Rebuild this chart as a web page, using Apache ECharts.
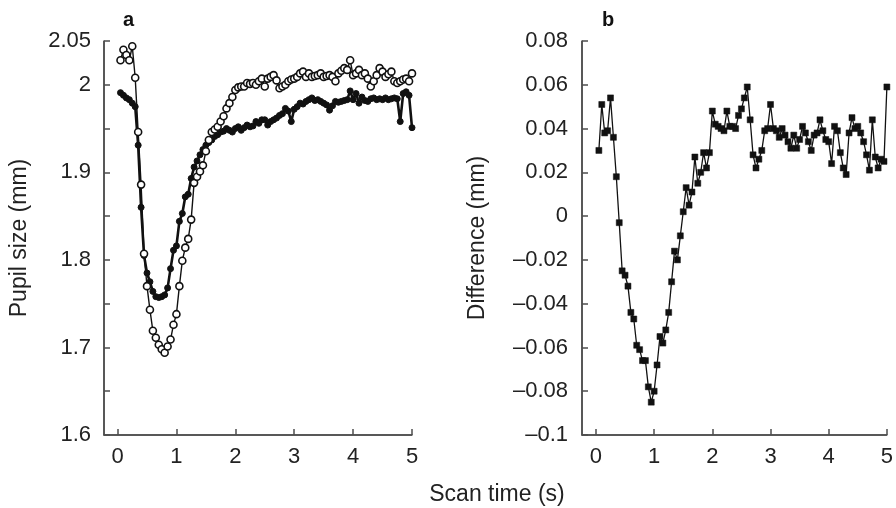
<!DOCTYPE html>
<html>
<head>
<meta charset="utf-8">
<title>Pupil size</title>
<script src="https://cdn.jsdelivr.net/npm/echarts@6/dist/echarts.min.js"></script>
<style>
	html, body { margin: 0; padding: 0; background: #ffffff; }
	#Section1 { width: 896px; height: 508px; }
</style>
</head>
<body>
<div id="Section1"></div>
<script>
// scan times (s)
var times = [0.05, 0.1, 0.15, 0.2, 0.25, 0.3, 0.35, 0.4, 0.45, 0.5,
	0.55, 0.6, 0.65, 0.7, 0.75, 0.8, 0.85, 0.9, 0.95, 1.0,
	1.05, 1.1, 1.15, 1.2, 1.25, 1.3, 1.35, 1.4, 1.45, 1.5,
	1.55, 1.6, 1.65, 1.7, 1.75, 1.8, 1.85, 1.9, 1.95, 2.0,
	2.05, 2.1, 2.15, 2.2, 2.25, 2.3, 2.35, 2.4, 2.45, 2.5,
	2.55, 2.6, 2.65, 2.7, 2.75, 2.8, 2.85, 2.9, 2.95, 3.0,
	3.05, 3.1, 3.15, 3.2, 3.25, 3.3, 3.35, 3.4, 3.45, 3.5,
	3.55, 3.6, 3.65, 3.7, 3.75, 3.8, 3.85, 3.9, 3.95, 4.0,
	4.05, 4.1, 4.15, 4.2, 4.25, 4.3, 4.35, 4.4, 4.45, 4.5,
	4.55, 4.6, 4.65, 4.7, 4.75, 4.8, 4.85, 4.9, 4.95, 5.0];

// x tick labels
var timeTicks = [0, 1, 2, 3, 4, 5];

// axis ranges
var xRangeA = [-0.23, 5];
var xRangeB = [-0.24, 5];
var yRangeA = [1.6, 2.05];
var yRangeB = [-0.1, 0.08];

// panel a, open circles (mm)
var pupilOpen = [2.028, 2.040, 2.034, 2.028, 2.044, 2.008, 1.946, 1.886, 1.807, 1.770,
	1.743, 1.719, 1.711, 1.703, 1.698, 1.694, 1.701, 1.709, 1.726, 1.738,
	1.770, 1.799, 1.814, 1.824, 1.846, 1.888, 1.895, 1.901, 1.908, 1.924,
	1.937, 1.946, 1.949, 1.952, 1.958, 1.964, 1.973, 1.979, 1.986, 1.994,
	1.997, 1.998, 1.998, 2.002, 2.001, 2.002, 2.000, 2.004, 2.007, 1.998,
	2.007, 2.009, 2.011, 2.005, 1.996, 1.998, 2.000, 2.004, 2.006, 2.007,
	2.009, 2.013, 2.015, 2.009, 2.013, 2.009, 2.010, 2.011, 2.013, 2.009,
	2.010, 2.011, 2.009, 2.004, 2.013, 2.016, 2.019, 2.017, 2.028, 2.011,
	2.013, 2.017, 2.011, 2.013, 2.007, 1.998, 2.004, 2.011, 2.019, 2.015,
	2.009, 2.012, 2.015, 2.004, 2.002, 2.004, 2.006, 2.007, 2.004, 2.013];

// panel a, filled circles (mm)
var pupilFilled = [1.991, 1.988, 1.985, 1.983, 1.979, 1.975, 1.931, 1.860, 1.805, 1.785,
	1.775, 1.764, 1.758, 1.757, 1.758, 1.760, 1.768, 1.790, 1.811, 1.816,
	1.844, 1.853, 1.872, 1.875, 1.893, 1.906, 1.913, 1.920, 1.926, 1.931,
	1.934, 1.937, 1.941, 1.943, 1.946, 1.947, 1.950, 1.948, 1.946, 1.950,
	1.952, 1.948, 1.951, 1.954, 1.952, 1.953, 1.958, 1.956, 1.960, 1.960,
	1.954, 1.958, 1.960, 1.962, 1.965, 1.967, 1.973, 1.970, 1.958, 1.972,
	1.975, 1.979, 1.978, 1.981, 1.983, 1.985, 1.982, 1.983, 1.981, 1.979,
	1.977, 1.971, 1.976, 1.981, 1.980, 1.981, 1.982, 1.983, 1.993, 1.983,
	1.990, 1.979, 1.986, 1.982, 1.981, 1.984, 1.985, 1.983, 1.984, 1.983,
	1.985, 1.983, 1.984, 1.985, 1.984, 1.958, 1.990, 1.992, 1.988, 1.951];

// panel b, difference (mm)
var pupilDiff = [0.030, 0.051, 0.038, 0.039, 0.054, 0.036, 0.018, -0.003, -0.025, -0.027,
	-0.032, -0.044, -0.047, -0.059, -0.061, -0.066, -0.066, -0.078, -0.085, -0.080,
	-0.068, -0.055, -0.058, -0.052, -0.044, -0.030, -0.016, -0.020, -0.009, 0.002,
	0.013, 0.005, 0.011, 0.027, 0.015, 0.020, 0.029, 0.022, 0.029, 0.048,
	0.042, 0.041, 0.040, 0.039, 0.048, 0.041, 0.041, 0.040, 0.046, 0.049,
	0.054, 0.059, 0.044, 0.028, 0.022, 0.026, 0.030, 0.039, 0.040, 0.051,
	0.040, 0.039, 0.036, 0.040, 0.037, 0.034, 0.031, 0.037, 0.031, 0.035,
	0.041, 0.038, 0.034, 0.030, 0.037, 0.038, 0.044, 0.039, 0.035, 0.034,
	0.024, 0.041, 0.039, 0.029, 0.022, 0.019, 0.038, 0.045, 0.040, 0.041,
	0.038, 0.034, 0.028, 0.021, 0.044, 0.027, 0.022, 0.026, 0.025, 0.059];

var font = 'Liberation Sans, Arial, Helvetica, sans-serif';
var axisColor = '#4d4d4d';
var textColor = '#222222';

function pairs(vals) {
	var arr = [];
	for (var i = 0; i < vals.length; i++) {
		arr.push([times[i], vals[i]]);
	}
	return arr;
}

// left and bottom frame of a panel, drawn through the axes' own scales
function frameSeries(idx, xRange, yRange) {
	return {
		name: 'frame' + idx,
		type: 'line',
		xAxisIndex: idx,
		yAxisIndex: idx,
		silent: true,
		clip: false,
		z: 1,
		symbol: 'none',
		lineStyle: { color: axisColor, width: 1.5 },
		data: [[xRange[0], yRange[1]], [xRange[0], yRange[0]], [xRange[1], yRange[0]]]
	};
}

function xAxisFor(idx, range) {
	return {
		type: 'value',
		gridIndex: idx,
		min: range[0],
		max: range[1],
		splitLine: { show: false },
		axisLine: { show: true, onZero: false, lineStyle: { color: axisColor, width: 1.5 } },
		axisTick: { show: true, inside: true, length: 6, customValues: timeTicks, lineStyle: { color: axisColor, width: 1.5 } },
		axisLabel: {
			color: textColor, fontFamily: font, fontSize: 22, margin: 11,
			customValues: timeTicks,
			showMinLabel: true, showMaxLabel: true
		}
	};
}

var myChart = echarts.init(document.getElementById('Section1'));

option = {
	animation: false,
	backgroundColor: '#ffffff',
	grid: [
		{ left: 104, top: 41, width: 308, height: 394 },
		{ left: 582, top: 41, width: 308, height: 394 }
	],
	xAxis: [xAxisFor(0, xRangeA), xAxisFor(1, xRangeB)],
	yAxis: [{
		type: 'value',
		gridIndex: 0,
		min: yRangeA[0],
		max: yRangeA[1],
		interval: 0.05,
		name: 'Pupil size (mm)',
		nameLocation: 'middle',
		nameGap: 73,
		nameTextStyle: { color: textColor, fontFamily: font, fontSize: 23 },
		splitLine: { show: false },
		axisLine: { show: true, onZero: false, lineStyle: { color: axisColor, width: 1.5 } },
		axisTick: { show: true, inside: true, length: 6, lineStyle: { color: axisColor, width: 1.5 } },
		axisLabel: {
			color: textColor, fontFamily: font, fontSize: 22, margin: 13,
			formatter: function (v) {
				var r = Math.round(v * 100);
				if (r === 205) return '2.05';
				if (r % 10 === 0) return String(r / 100);
				return '';
			}
		}
	}, {
		type: 'value',
		gridIndex: 1,
		min: yRangeB[0],
		max: yRangeB[1],
		interval: 0.02,
		name: 'Difference (mm)',
		nameLocation: 'middle',
		nameGap: 93,
		nameTextStyle: { color: textColor, fontFamily: font, fontSize: 23 },
		splitLine: { show: false },
		axisLine: { show: true, onZero: false, lineStyle: { color: axisColor, width: 1.5 } },
		axisTick: { show: true, inside: true, length: 6, lineStyle: { color: axisColor, width: 1.5 } },
		axisLabel: {
			color: textColor, fontFamily: font, fontSize: 22, margin: 14,
			formatter: function (v) {
				var r = Math.round(v * 100);
				if (r === 0) return '0';
				var s = String(Math.abs(r) / 100);
				return r < 0 ? '\u2013' + s : s;
			}
		}
	}],
	graphic: [
		{ type: 'text', left: 123, top: 10, style: { text: 'a', fill: '#111', font: 'bold 20px ' + font } },
		{ type: 'text', left: 602, top: 10, style: { text: 'b', fill: '#111', font: 'bold 20px ' + font } },
		{ type: 'text', x: 497, y: 495, style: { text: 'Scan time (s)', fill: textColor, font: '23px ' + font, textAlign: 'center', textVerticalAlign: 'middle' } }
	],
	series: [frameSeries(0, xRangeA, yRangeA), frameSeries(1, xRangeB, yRangeB), {
		name: 'filled',
		type: 'line',
		xAxisIndex: 0,
		yAxisIndex: 0,
		symbol: 'circle',
		symbolSize: 6,
		itemStyle: { color: '#111111', borderColor: '#111111', borderWidth: 1 },
		lineStyle: { color: '#111111', width: 2.6 },
		data: pairs(pupilFilled)
	}, {
		name: 'open',
		type: 'line',
		xAxisIndex: 0,
		yAxisIndex: 0,
		symbol: 'circle',
		symbolSize: 7,
		itemStyle: { color: '#ffffff', borderColor: '#111111', borderWidth: 1.6 },
		lineStyle: { color: '#111111', width: 1.4 },
		data: pairs(pupilOpen)
	}, {
		name: 'difference',
		type: 'line',
		xAxisIndex: 1,
		yAxisIndex: 1,
		symbol: 'rect',
		symbolSize: 6,
		itemStyle: { color: '#111111', borderColor: '#111111', borderWidth: 0.5 },
		lineStyle: { color: '#111111', width: 1.3 },
		data: pairs(pupilDiff)
	}]
};
myChart.setOption(option);
</script>
</body>
</html>
